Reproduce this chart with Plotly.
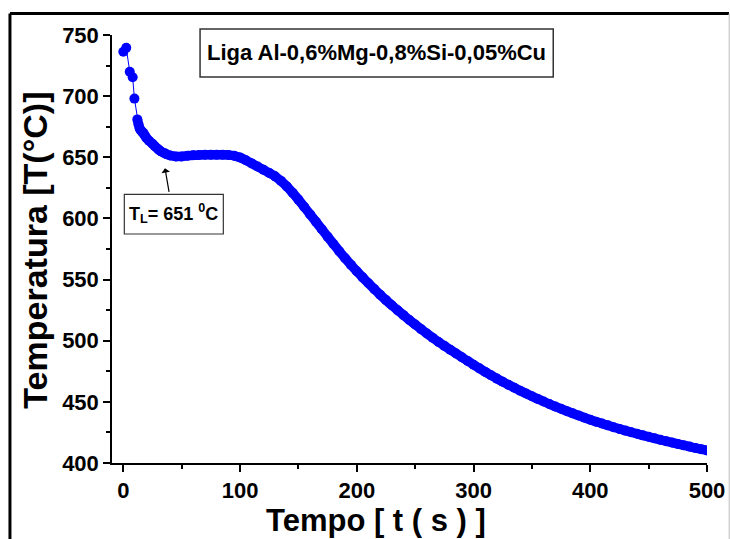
import plotly.graph_objects as go

# ---- data ----
time_s = [0, 2.5, 5.5, 8, 9.5, 12, 13, 14, 15, 16, 17, 18, 19, 20, 22, 25, 27, 30, 32, 35, 37, 40,
          45, 50, 55, 60, 65, 70, 75, 80, 85, 90, 95, 100, 105, 110, 115, 120, 125, 130, 135, 140,
          145, 150, 155, 160, 165, 170, 175, 180, 185, 190, 195, 200, 205, 210, 215, 220, 225, 230,
          235, 240, 245, 250, 255, 260, 265, 270, 275, 280, 285, 290, 295, 300, 305, 310, 315, 320,
          325, 330, 335, 340, 345, 350, 355, 360, 365, 370, 375, 380, 385, 390, 395, 400, 405, 410,
          415, 420, 425, 430, 435, 440, 445, 450, 455, 460, 465, 470, 475, 480, 485, 490, 495, 500]
temp_c = [736.3, 739.5, 720.0, 715.5, 698.0, 681.0, 677.0, 673.5, 672.0, 671.0, 670.0, 668.5, 667.0,
          665.5, 663.5, 661.0, 659.0, 656.5, 655.0, 653.5, 652.5, 651.5,
          650.7, 650.7, 651.2, 651.6, 651.9, 652.0, 652.0, 652.0, 652.0, 651.8, 651.2, 649.8, 647.6,
          645.0, 642.4, 639.8, 637.2, 634.4, 630.7, 626.2,
          621.0, 615.4, 609.4, 603.3, 597.3, 591.2, 585.1, 579.1, 573.2, 567.5, 562.0, 556.8, 551.8,
          547.0, 542.2, 537.6, 533.2, 529.0,
          524.9, 520.9, 517.0, 513.2, 509.5, 505.9, 502.4, 499.0, 495.8, 492.7, 489.6, 486.5, 483.4,
          480.4, 477.4, 474.5, 471.7, 469.0,
          466.4, 463.9, 461.5, 459.1, 456.8, 454.6, 452.4, 450.3, 448.2, 446.2, 444.3, 442.4, 440.6,
          438.8, 437.1, 435.4, 433.8, 432.3,
          430.8, 429.3, 427.9, 426.5, 425.2, 423.9, 422.6, 421.4, 420.2, 419.0, 417.8, 416.7, 415.6,
          414.5, 413.4, 412.3, 411.3, 410.3]
dense_start = 5  # index where the sampling becomes dense (t = 12 s)

x_ticks = [0, 100, 200, 300, 400, 500]
y_ticks = [400, 450, 500, 550, 600, 650, 700, 750]

title_text = "Liga Al-0,6%Mg-0,8%Si-0,05%Cu"
tl_text = "T<sub>L</sub>= 651 <sup>0</sup>C"
x_title = "Tempo [ t ( s ) ]"
y_title = "Temperatura [T(°C)]"

FONT = "Liberation Sans, Arial, sans-serif"
BLUE = "#0000ff"

fig = go.Figure()
fig.add_trace(go.Scatter(
    x=time_s[dense_start:], y=temp_c[dense_start:], mode="lines",
    line=dict(color=BLUE, width=9.5, shape="spline", smoothing=0.6),
    showlegend=False, hoverinfo="skip"))
fig.add_trace(go.Scatter(
    x=time_s, y=temp_c, mode="lines+markers",
    line=dict(color=BLUE, width=1),
    marker=dict(color=BLUE, size=10, line=dict(width=0)),
    showlegend=False, hoverinfo="skip"))

axis_common = dict(
    showgrid=False, zeroline=False, showline=True, linecolor="black", linewidth=1.5,
    ticks="outside", ticklen=7, tickwidth=1.5, tickcolor="black", automargin=False,
    tickfont=dict(family=FONT, size=22, color="black", weight="bold"),
)
fig.update_xaxes(range=[-9.7, 500], tickvals=x_ticks, ticktext=["<b>%d</b>" % v for v in x_ticks],
                 ticklabelstandoff=0,
                 minor=dict(ticks="outside", ticklen=4, tickwidth=1.5, tickcolor="black", dtick=50, tick0=0),
                 **axis_common)
fig.update_yaxes(range=[400, 750], tickvals=y_ticks, ticktext=["<b>%d</b>" % v for v in y_ticks],
                 minor=dict(ticks="outside", ticklen=4, tickwidth=1.5, tickcolor="black", dtick=25, tick0=400),
                 **axis_common)

# boxes
fig.add_shape(type="rect", xref="paper", yref="paper", x0=0.148, x1=0.7416, y0=0.9019, y1=1.014,
              line=dict(color="#333333", width=1.5), fillcolor="white", layer="below")
fig.add_shape(type="rect", xref="paper", yref="paper", x0=0.0207, x1=0.1871, y0=0.535, y1=0.6278,
              line=dict(color="#333333", width=1.2), fillcolor="white", layer="below")
# outer frame of the picture
fig.add_shape(type="line", xref="paper", yref="paper", x0=-0.1715, x1=1.037, y0=1.0502, y1=1.0502,
              line=dict(color="black", width=3))
fig.add_shape(type="line", xref="paper", yref="paper", x0=-0.1715, x1=-0.1715, y0=1.0502, y1=-0.18,
              line=dict(color="black", width=3))
fig.add_shape(type="line", xref="paper", yref="paper", x0=1.0375, x1=1.0375, y0=1.0502, y1=-0.18,
              line=dict(color="#d0d0d0", width=1.5))

fig.add_annotation(xref="paper", yref="paper", x=0.4448, y=0.958, xanchor="center", yanchor="middle",
                   text="<b>%s</b>" % title_text,
                   showarrow=False, font=dict(family=FONT, size=22, color="black"))
fig.add_annotation(xref="paper", yref="paper", x=0.1039, y=0.5818, xanchor="center", yanchor="middle",
                   text="<b>%s</b>" % tl_text,
                   showarrow=False, font=dict(family=FONT, size=18, color="black"))
fig.add_annotation(x=35.7, y=641, ax=4.3, ay=25, text="", showarrow=True,
                   arrowhead=1, arrowsize=1.2, arrowwidth=1.2, arrowcolor="black")
fig.add_annotation(xref="paper", yref="paper", x=0.444, y=-0.135, xanchor="center", yanchor="middle",
                   text="<b>%s</b>" % x_title,
                   showarrow=False, font=dict(family=FONT, size=31, color="black"))
fig.add_annotation(xref="paper", yref="paper", x=-0.13, y=0.4977, xanchor="center", yanchor="middle",
                   text="<b>%s</b>" % y_title,
                   textangle=-90, showarrow=False, font=dict(family=FONT, size=34, color="black"))

fig.update_layout(
    width=730, height=539, autosize=False,
    margin=dict(l=112, r=23.3, t=35, b=76),
    paper_bgcolor="white", plot_bgcolor="white",
)
fig.write_html("out.html")
